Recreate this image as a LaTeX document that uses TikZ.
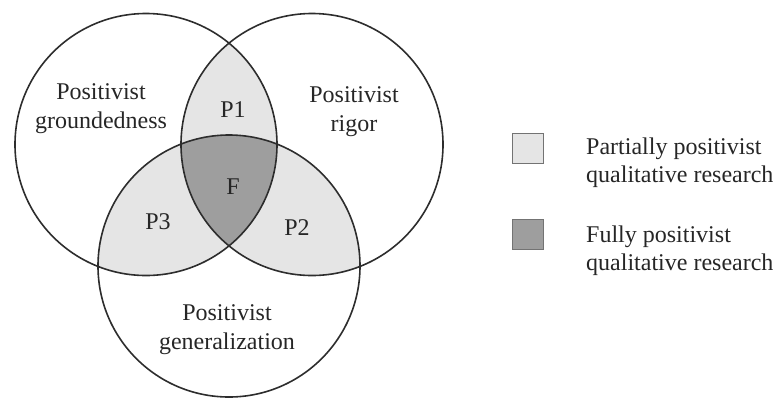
\documentclass[tikz,border=0pt]{standalone}
\usepackage{fontspec}
\setmainfont{Liberation Serif}
\definecolor{partfill}{RGB}{229,229,229}
\definecolor{fullfill}{RGB}{158,158,158}
\definecolor{edge}{RGB}{45,45,45}
\begin{document}
\begin{tikzpicture}[x=1pt,y=-1pt,
  ring/.style={draw=edge,line width=1.6pt},
  lbl/.style={font=\fontsize{24}{29}\selectfont,align=center,text=black!85,inner sep=0pt},
  key/.style={draw=black!55,line width=1pt,minimum width=31pt,minimum height=30pt,inner sep=0pt},
  keytext/.style={font=\fontsize{24}{28}\selectfont,align=left,anchor=west,text=black!85,inner sep=0pt}]
\useasboundingbox (0,0) rectangle (781,400);
% circle geometry
\def\rad{131}
\coordinate (cL) at (146,144.5);
\coordinate (cR) at (312,144.5);
\coordinate (cB) at (229,266);
% pairwise overlaps
\begin{scope}
  \clip (cL) circle[radius=\rad];
  \fill[partfill] (cR) circle[radius=\rad];
  \fill[partfill] (cB) circle[radius=\rad];
\end{scope}
\begin{scope}
  \clip (cR) circle[radius=\rad];
  \fill[partfill] (cB) circle[radius=\rad];
\end{scope}
% triple overlap
\begin{scope}
  \clip (cL) circle[radius=\rad];
  \clip (cR) circle[radius=\rad];
  \fill[fullfill] (cB) circle[radius=\rad];
\end{scope}
% outlines
\draw[ring] (cL) circle[radius=\rad];
\draw[ring] (cR) circle[radius=\rad];
\draw[ring] (cB) circle[radius=\rad];
% labels
\node[lbl] (ground) at (101,109) {Positivist\\groundedness};
\node[lbl] (rigor) at (354,112) {Positivist\\rigor};
\node[lbl] (gener) at (227,330) {Positivist\\generalization};
\node[lbl] (p1) at (233,110) {P1};
\node[lbl] (f) at (233,187) {F};
\node[lbl] (p3) at (158,222) {P3};
\node[lbl] (p2) at (297,228) {P2};
% legend
\node[key,fill=partfill] (kpart) at (527.5,148) {};
\node[key,fill=fullfill] (kfull) at (527.5,234.5) {};
\node[keytext] (tpart) at (586,163) {Partially positivist\\qualitative research};
\node[keytext] (tfull) at (586,250.5) {Fully positivist\\qualitative research};
\end{tikzpicture}
\end{document}
